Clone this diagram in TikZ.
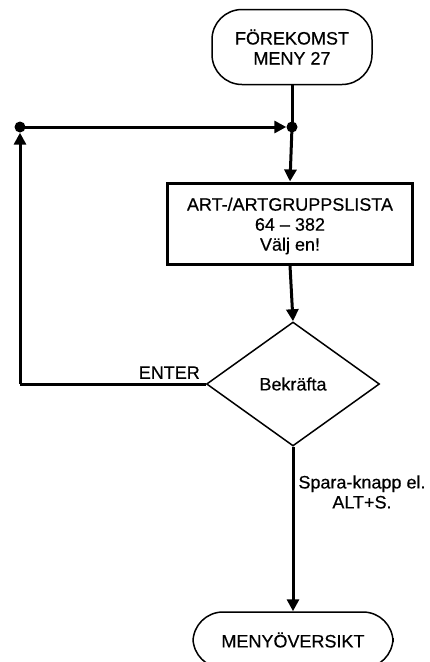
\documentclass[tikz,border=0pt]{standalone}
\usepackage{fontspec}
\setmainfont{Liberation Sans}[FakeBold=0.4]
\usetikzlibrary{arrows.meta,shapes.geometric}
\begin{document}
\begin{tikzpicture}[x=1pt,y=-1pt,
  txt/.style={font=\fontsize{18}{20}\selectfont, align=center, inner sep=0pt},
  term/.style={txt, draw, line width=1.5pt, rounded corners=30pt},
  procbox/.style={draw, line width=3pt},
  decide/.style={txt, draw, diamond, line width=1.5pt, minimum width=173pt, minimum height=124pt},
  conn/.style={line width=3pt, -{Triangle[width=12pt,length=12pt]}},
  plain/.style={line width=3pt},
  lbl/.style={txt},
  dot/.style={circle, fill, inner sep=0pt, minimum size=11pt}]
\useasboundingbox (0,0) rectangle (429,662);
\node[term, minimum width=160pt, minimum height=75pt] (start) at (292,47) {FÖREKOMST\\MENY 27};
\node[dot] (j1) at (292,127) {};
\node[dot] (j2) at (20,127) {};
\node[procbox, minimum width=245pt, minimum height=81pt] (list) at (290,223.5) {};
\node[txt] (listtxt) at (290,226) {ART-/ARTGRUPPSLISTA\\64 -- 382\\Välj en!};
\node[decide] (dec) at (293,384) {Bekräfta};
\node[term, minimum width=200pt, minimum height=56pt] (end) at (293,640) {MENYÖVERSIKT};
\coordinate (corner) at (20,384);
% connectors
\draw[plain] (start.south) -- (j1.center);
\draw[conn] (j2.center) -- (j1.west);
\draw[conn] (j1.center) -- (list.north);
\draw[conn] (list.south) -- (dec.north);
\draw[plain] (dec.west) -- (corner);
\draw[conn] (corner) -- (j2.south);
\draw[conn] (dec.south) -- (end.north);
% labels
\node[lbl, anchor=south east] (lenter) at (200,379) {ENTER};
\node[lbl] (lspara) at (362,492) {Spara-knapp el.\\ALT+S.};
\end{tikzpicture}
\end{document}
